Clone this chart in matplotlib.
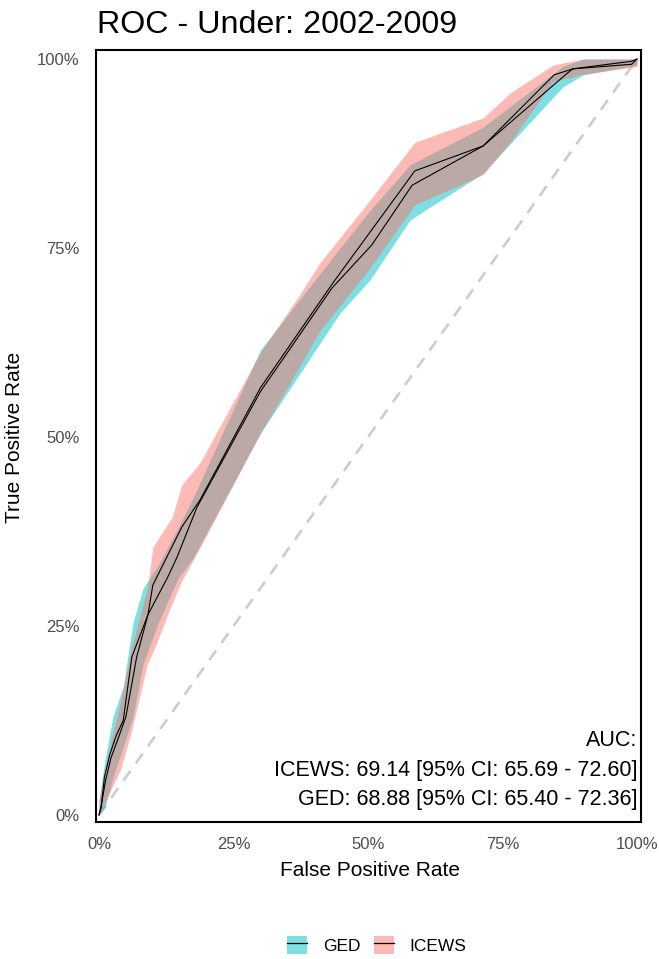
import matplotlib
matplotlib.use("Agg")
import matplotlib.pyplot as plt
from matplotlib.patches import Patch
from matplotlib.lines import Line2D
from matplotlib.legend_handler import HandlerTuple

plt.rcParams['font.family'] = ['Liberation Sans', 'DejaVu Sans']

title = "ROC - Under: 2002-2009"
series = ["GED", "ICEWS"]
colors = {"GED": "#00BFC4", "ICEWS": "#F8766D"}

# ICEWS ROC curve
icews_fpr = [0, 0.004, 0.012, 0.022, 0.035, 0.05, 0.07, 0.091, 0.1, 0.154, 0.188, 0.30, 0.435, 0.587, 0.714, 0.846, 0.881, 0.99, 1.0]
icews_tpr = [0, 0.012, 0.045, 0.075, 0.10, 0.13, 0.209, 0.265, 0.304, 0.381, 0.417, 0.565, 0.704, 0.852, 0.885, 0.979, 0.987, 0.997, 1.0]
# GED ROC curve
ged_fpr = [0, 0.004, 0.010, 0.020, 0.032, 0.045, 0.061, 0.091, 0.128, 0.145, 0.182, 0.30, 0.433, 0.507, 0.582, 0.714, 0.870, 0.881, 0.99, 1.0]
ged_tpr = [0, 0.010, 0.050, 0.080, 0.105, 0.125, 0.209, 0.265, 0.315, 0.341, 0.407, 0.560, 0.697, 0.754, 0.833, 0.885, 0.981, 0.987, 0.993, 1.0]

# ICEWS confidence band
icews_ci_fpr = [0, 0.02, 0.04, 0.06, 0.09, 0.10, 0.136, 0.154, 0.188, 0.30, 0.37, 0.41, 0.50, 0.587, 0.714, 0.764, 0.844, 0.90, 1.0]
icews_ci_hi = [0.02, 0.09, 0.15, 0.22, 0.30, 0.354, 0.394, 0.437, 0.466, 0.612, 0.685, 0.730, 0.81, 0.89, 0.922, 0.955, 0.992, 1.0, 1.0]
icews_ci_lo = [0.0, 0.03, 0.06, 0.11, 0.20, 0.215, 0.28, 0.31, 0.354, 0.505, 0.59, 0.64, 0.72, 0.807, 0.847, 0.89, 0.97, 0.98, 0.99]
# GED confidence band
ged_ci_fpr = [0, 0.011, 0.026, 0.045, 0.063, 0.082, 0.11, 0.147, 0.175, 0.30, 0.448, 0.504, 0.578, 0.714, 0.862, 0.90, 1.0]
ged_ci_hi = [0.02, 0.073, 0.13, 0.17, 0.254, 0.30, 0.33, 0.38, 0.42, 0.615, 0.75, 0.80, 0.86, 0.91, 0.99, 1.0, 1.0]
ged_ci_lo = [0.0, 0.01, 0.05, 0.09, 0.13, 0.20, 0.254, 0.313, 0.34, 0.505, 0.664, 0.708, 0.787, 0.849, 0.963, 0.979, 0.992]

x_ticks = [0, 0.25, 0.5, 0.75, 1.0]
tick_labels = ["0%", "25%", "50%", "75%", "100%"]
auc_text = "AUC:\nICEWS: 69.14 [95% CI: 65.69 - 72.60]\nGED: 68.88 [95% CI: 65.40 - 72.36]"

fig = plt.figure(figsize=(6.59, 9.59), dpi=100)
ax = fig.add_axes([96/659, 1-822/959, (641-96)/659, (822-50)/959])

ax.plot([0, 1], [0, 1], color="#CCCCCC", lw=1.9, ls=(0, (4.5, 3.5)), zorder=1)
ax.fill_between(ged_ci_fpr, ged_ci_lo, ged_ci_hi, color=colors["GED"], alpha=0.5, lw=0, zorder=2)
ax.fill_between(icews_ci_fpr, icews_ci_lo, icews_ci_hi, color=colors["ICEWS"], alpha=0.5, lw=0, zorder=3)
ax.plot(ged_fpr, ged_tpr, color="black", lw=0.8, zorder=4)
ax.plot(icews_fpr, icews_tpr, color="black", lw=0.8, zorder=4)

ax.set_xlim(-0.0056, 1.0074)
ax.set_ylim(-0.0093, 1.0119)
ax.set_xticks(x_ticks)
ax.set_xticklabels(tick_labels)
ax.set_yticks(x_ticks)
ax.set_yticklabels(tick_labels)
ax.tick_params(axis="y", length=0, labelsize=12, labelcolor="#4D4D4D", pad=12)
ax.tick_params(axis="x", length=0, labelsize=12, labelcolor="#4D4D4D", pad=11)
for s in ax.spines.values():
    s.set_linewidth(1.5)
    s.set_color("black")
ax.set_xlabel("False Positive Rate", fontsize=15)
ax.set_ylabel("True Positive Rate", fontsize=15)
ax.xaxis.label.set_va("center")
ax.yaxis.label.set_va("center")
ax.xaxis.set_label_coords((370-96)/545, -(870-822)/772)
ax.yaxis.set_label_coords(-(96-15)/545, (822-437)/772)

ax.text(1.0, 0.006, auc_text, ha="right", va="bottom", fontsize=15.5,
        linespacing=1.55, multialignment="right", zorder=5)

fig.text(97/659, 1-33/959, title, fontsize=23.2, ha="left", va="baseline")

handles = [(Patch(facecolor=colors[s], alpha=0.5, lw=0), Line2D([], [], color="black", lw=0.9)) for s in series]
fig.legend(handles, series, loc="center", bbox_to_anchor=(377/659, 1-945/959), ncol=2,
           frameon=False, fontsize=12.5, handler_map={tuple: HandlerTuple(ndivide=1)},
           handlelength=1.15, handleheight=1.3, columnspacing=0.8, handletextpad=0.9)

fig.savefig("out.png", dpi=100)
